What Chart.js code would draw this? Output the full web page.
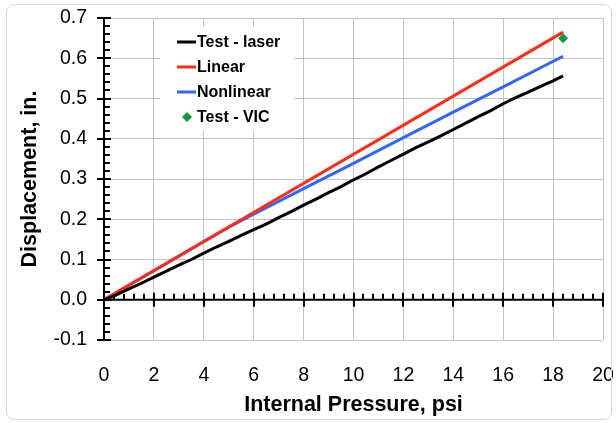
<!DOCTYPE html>
<html>
<head>
<meta charset="utf-8">
<script src="https://cdn.jsdelivr.net/npm/chart.js@4/dist/chart.umd.min.js"></script>
<style>
    body { margin: 0; background: #fff; }
    #wrap { position: relative; width: 616px; height: 423px; }
    #frame {
        position: absolute; left: 6px; top: 4px; width: 604px; height: 414px;
        border: 1px solid #dadada; border-radius: 8px; pointer-events: none;
    }
</style>
</head>
<body>
<div id="wrap">
    <canvas id="chart" width="616" height="423"></canvas>
    <div id="frame"></div>
</div>
<script>
// ── data ──
const laserX = [0, 0.5, 1.0, 1.5, 2.0, 2.5, 3.0, 3.5, 4.0, 4.5, 5.0, 5.5, 6.0, 6.5, 7.0, 7.5, 8.0, 8.5, 9.0,
                9.5, 10.0, 10.5, 11.0, 11.5, 12.0, 12.5, 13.0, 13.5, 14.0, 14.5, 15.0, 15.5, 16.0, 16.5, 17.0, 17.5, 18.0, 18.4];
const laserY = [0.000, 0.012, 0.027, 0.041, 0.056, 0.071, 0.086, 0.100, 0.116, 0.131, 0.145, 0.160, 0.174, 0.188,
                0.204, 0.219, 0.235, 0.250, 0.266, 0.281, 0.298, 0.313, 0.330, 0.346, 0.362, 0.378, 0.392, 0.407,
                0.423, 0.439, 0.455, 0.470, 0.487, 0.502, 0.516, 0.530, 0.544, 0.556];

const linearX = [0, 18.4];
const linearY = [0, 0.665];

const nonlinX = [0, 4.0, 4.5, 5.0, 5.5, 6.0, 8.0, 10.0, 12.0, 14.0, 16.0, 18.4];
const nonlinY = [0, 0.1445, 0.1625, 0.180, 0.1965, 0.2125, 0.276, 0.339, 0.403, 0.466, 0.529, 0.605];

const vicX = [18.4];
const vicY = [0.650];

const xTitle = 'Internal Pressure, psi';
const yTitle = 'Displacement, in.';

const FONT = "'Liberation Sans', Arial, sans-serif";
const pts = (xs, ys) => xs.map((x, i) => ({ x, y: ys[i] }));

// black axis lines through (0,0) with major/minor ticks, legend box, axis titles
const axesPlugin = {
    id: 'axes',
    beforeDatasetsDraw(chart) {
        const { ctx, scales: { x, y }, chartArea: ca } = chart;
        const x0 = x.getPixelForValue(0), y0 = y.getPixelForValue(0);
        ctx.save();
        ctx.strokeStyle = '#000';
        ctx.lineWidth = 2;
        ctx.beginPath();
        ctx.moveTo(x0, ca.top); ctx.lineTo(x0, ca.bottom);
        ctx.moveTo(ca.left, y0); ctx.lineTo(ca.right, y0);
        for (let i = 0; i <= 40; i++) {
            const v = -0.1 + i * 0.02, py = Math.round(y.getPixelForValue(v));
            if (i % 5 === 0) { ctx.moveTo(x0 - 7, py); ctx.lineTo(x0 + 7, py); }
            else { ctx.moveTo(x0, py); ctx.lineTo(x0 + 6, py); }
        }
        for (let i = 0; i <= 50; i++) {
            const px = Math.round(x.getPixelForValue(i * 0.4));
            if (i % 5 === 0) { ctx.moveTo(px, y0 - 7); ctx.lineTo(px, y0 + 7); }
            else { ctx.moveTo(px, y0 - 6); ctx.lineTo(px, y0); }
        }
        ctx.stroke();

        // legend
        const lx = ca.left + 56, ly = ca.top + 9;
        ctx.fillStyle = '#fff';
        ctx.fillRect(lx, ly, 134, 103);
        ctx.font = `bold 16px ${FONT}`;
        ctx.textBaseline = 'middle';
        chart.data.datasets.forEach((ds, i) => {
            const ry = ly + 15 + i * 25;
            if (ds.showLine === false) {
                ctx.fillStyle = ds.backgroundColor;
                ctx.beginPath();
                ctx.moveTo(lx + 27, ry - 5); ctx.lineTo(lx + 32, ry);
                ctx.lineTo(lx + 27, ry + 5); ctx.lineTo(lx + 22, ry);
                ctx.fill();
            } else {
                ctx.strokeStyle = ds.borderColor;
                ctx.lineWidth = 3;
                ctx.beginPath();
                ctx.moveTo(lx + 17, ry); ctx.lineTo(lx + 36, ry);
                ctx.stroke();
            }
            ctx.fillStyle = '#000';
            ctx.fillText(ds.label, lx + 37, ry + 1);
        });
        ctx.restore();
    },
    afterDraw(chart) {
        const { ctx, chartArea: ca } = chart;
        ctx.save();
        ctx.fillStyle = '#000';
        ctx.textAlign = 'center';
        ctx.textBaseline = 'middle';
        ctx.font = `bold 21.5px ${FONT}`;
        ctx.fillText(xTitle, (ca.left + ca.right) / 2, 405);
        ctx.translate(30.5, (ca.top + ca.bottom) / 2);
        ctx.rotate(-Math.PI / 2);
        ctx.fillText(yTitle, 0, 0);
        ctx.restore();
    },
};

new Chart(document.getElementById('chart'), {
    type: 'scatter',
    data: {
        datasets: [
            { label: 'Test - laser', data: pts(laserX, laserY), showLine: true, borderColor: '#000000', borderWidth: 3, pointRadius: 0 },
            { label: 'Linear', data: pts(linearX, linearY), showLine: true, borderColor: '#ff2d1a', borderWidth: 3, pointRadius: 0 },
            { label: 'Nonlinear', data: pts(nonlinX, nonlinY), showLine: true, borderColor: '#3366ff', borderWidth: 3, pointRadius: 0 },
            { label: 'Test - VIC', data: pts(vicX, vicY), showLine: false, pointStyle: 'rectRot', pointRadius: 5,
              backgroundColor: '#109a3a', borderColor: '#109a3a', borderWidth: 0 },
        ],
    },
    options: {
        responsive: false,
        animation: false,
        layout: { padding: { left: 0, top: 18, right: 13, bottom: 0 } },
        plugins: { legend: { display: false }, tooltip: { enabled: false } },
        scales: {
            x: {
                type: 'linear', min: 0, max: 20,
                afterFit: s => { s.height = 83; s.paddingLeft = 0; s.paddingRight = 0; },
                grid: { color: '#c4c4c4', lineWidth: 1, drawTicks: false },
                border: { display: false },
                ticks: { stepSize: 2, padding: 24, color: '#000', font: { family: FONT, size: 19.5 } },
            },
            y: {
                min: -0.1, max: 0.7,
                afterFit: s => { s.width = 104; s.paddingTop = 0; s.paddingBottom = 0; },
                grid: { color: '#c4c4c4', lineWidth: 1, drawTicks: false },
                border: { display: false },
                ticks: { stepSize: 0.1, padding: 17, color: '#000', font: { family: FONT, size: 19.5 },
                         callback: v => (Math.abs(v) < 1e-9 ? 0 : v).toFixed(1) },
            },
        },
    },
    plugins: [axesPlugin],
});
</script>
</body>
</html>
